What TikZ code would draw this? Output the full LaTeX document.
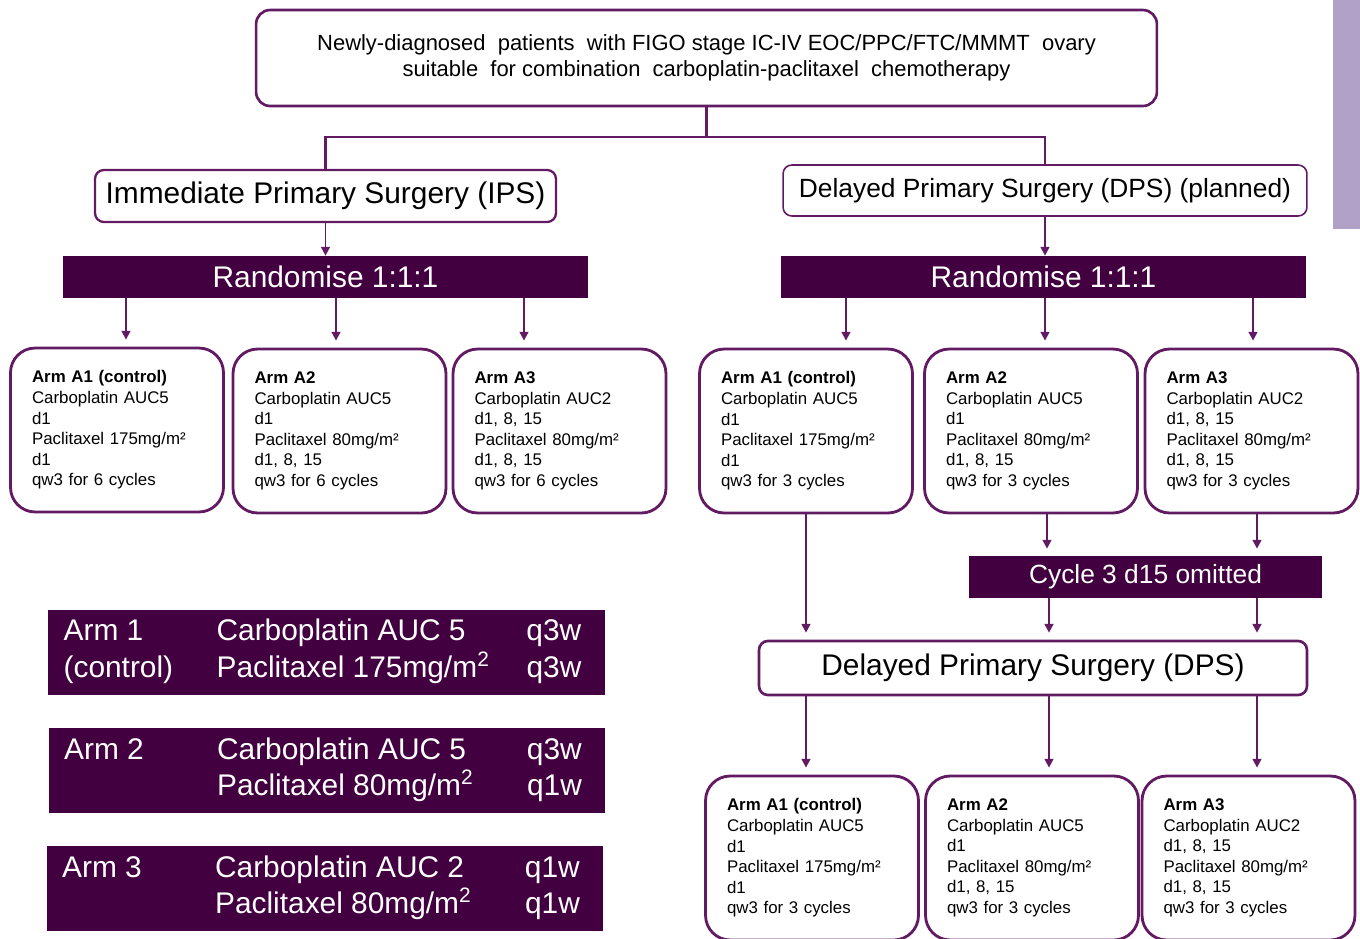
\documentclass[tikz,border=0pt]{standalone}
\usepackage{fontspec}
\setmainfont{Liberation Sans}
\usetikzlibrary{arrows.meta}
\definecolor{plum}{RGB}{66,0,64}
\definecolor{edgepurple}{RGB}{98,26,98}
\definecolor{lilac}{RGB}{177,160,200}

\begin{document}
\begin{tikzpicture}[x=0.02cm, y=-0.02cm,
  entry/.style={draw=edgepurple, line width=1.3pt, rounded corners=5pt, fill=white, align=center, inner sep=0pt},
  arm/.style={draw=edgepurple, line width=1.6pt, rounded corners=14pt, fill=white, minimum width=4.26cm, minimum height=3.28cm, text width=3.4cm, align=left, inner sep=0pt, font=\fontsize{9.6}{11.7}\selectfont},
  band/.style={fill=plum, text=white, inner sep=0pt},
  legend/.style={fill=plum, text=white, minimum width=11.14cm, minimum height=1.7cm, inner sep=0pt, font=\fontsize{17}{20.4}\selectfont},
  link/.style={draw=edgepurple, line width=1.6pt},
  arrow/.style={draw=edgepurple, line width=1.1pt, -{Triangle[length=5pt,width=5pt]}, shorten >=4pt}
]
\useasboundingbox (0,0) rectangle (1360,938);
\clip (0,0) rectangle (1360,938);
\fill[lilac] (1333,0) rectangle (1360,229);

\node[entry, line width=1.5pt, rounded corners=8pt, minimum width=18.02cm, minimum height=1.92cm, font=\fontsize{12.5}{14.7}\selectfont] (top) at (706.5,58) {Newly-diagnosed\ \ patients\ \ with FIGO stage IC-IV EOC/PPC/FTC/MMMT\ \ ovary\\suitable\ \ for combination\ \ carboplatin-paclitaxel\ \ chemotherapy};
\node[entry, minimum width=9.22cm, minimum height=1.04cm, font=\fontsize{17}{20}\selectfont] (ips) at (325.5,196) {Immediate Primary Surgery (IPS)};
\node[entry, line width=0.9pt, minimum width=10.48cm, minimum height=1.02cm, font=\fontsize{15}{18}\selectfont] (dpsplan) at (1045,190.5) {Delayed Primary Surgery (DPS) (planned)};

\node[band, minimum width=10.5cm, minimum height=0.84cm, font=\fontsize{17}{20}\selectfont] (rand1) at (325.5,277) {Randomise 1:1:1};
\node[band, minimum width=10.5cm, minimum height=0.84cm, font=\fontsize{17}{20}\selectfont] (rand2) at (1043.5,277) {Randomise 1:1:1};

\node[arm] (a1) at (117,430) {\textbf{Arm A1 (control)}\\Carboplatin AUC5\\d1\\Paclitaxel 175mg/m²\\d1\\qw3 for 6 cycles};
\node[arm] (a2) at (339.5,431) {\textbf{Arm A2}\\Carboplatin AUC5\\d1\\Paclitaxel 80mg/m²\\d1, 8, 15\\qw3 for 6 cycles};
\node[arm] (a3) at (559.5,431) {\textbf{Arm A3}\\Carboplatin AUC2\\d1, 8, 15\\Paclitaxel 80mg/m²\\d1, 8, 15\\qw3 for 6 cycles};
\node[arm] (b1) at (806,431) {\textbf{Arm A1 (control)}\\Carboplatin AUC5\\d1\\Paclitaxel 175mg/m²\\d1\\qw3 for 3 cycles};
\node[arm] (b2) at (1031,431) {\textbf{Arm A2}\\Carboplatin AUC5\\d1\\Paclitaxel 80mg/m²\\d1, 8, 15\\qw3 for 3 cycles};
\node[arm] (b3) at (1251.5,431) {\textbf{Arm A3}\\Carboplatin AUC2\\d1, 8, 15\\Paclitaxel 80mg/m²\\d1, 8, 15\\qw3 for 3 cycles};

\node[band, minimum width=7.06cm, minimum height=0.84cm, font=\fontsize{15}{18}\selectfont] (cycle) at (1145.5,577) {Cycle 3 d15 omitted};
\node[entry, line width=1.5pt, minimum width=10.96cm, minimum height=1.08cm, font=\fontsize{17}{20}\selectfont] (dps) at (1033,668) {Delayed Primary Surgery (DPS)};

\node[arm] (c1) at (812,858) {\textbf{Arm A1 (control)}\\Carboplatin AUC5\\d1\\Paclitaxel 175mg/m²\\d1\\qw3 for 3 cycles};
\node[arm] (c2) at (1032,858) {\textbf{Arm A2}\\Carboplatin AUC5\\d1\\Paclitaxel 80mg/m²\\d1, 8, 15\\qw3 for 3 cycles};
\node[arm] (c3) at (1248.5,858) {\textbf{Arm A3}\\Carboplatin AUC2\\d1, 8, 15\\Paclitaxel 80mg/m²\\d1, 8, 15\\qw3 for 3 cycles};

\node[legend] (leg1) at (326.5,652) {\begin{tabular}{@{}p{3.06cm}@{}p{6.2cm}@{}r@{\hspace{0.16cm}}}Arm 1 & Carboplatin AUC 5 & q3w\\(control) & Paclitaxel 175mg/m\textsuperscript{2} & q3w\end{tabular}};
\node[legend] (leg2) at (327,770.5) {\begin{tabular}{@{}p{3.06cm}@{}p{6.2cm}@{}r@{\hspace{0.16cm}}}Arm 2 & Carboplatin AUC 5 & q3w\\ & Paclitaxel 80mg/m\textsuperscript{2} & q1w\end{tabular}};
\node[legend] (leg3) at (325,888.5) {\begin{tabular}{@{}p{3.06cm}@{}p{6.2cm}@{}r@{\hspace{0.16cm}}}Arm 3 & Carboplatin AUC 2 & q1w\\ & Paclitaxel 80mg/m\textsuperscript{2} & q1w\end{tabular}};

\coordinate (split) at (top.south |- 0,137);
\draw[link] (top.south) -- (split);
\draw[link, line width=1.2pt] (split) -| (ips.north);
\draw[link, line width=1.2pt] (split) -| (dpsplan.north);

\draw[arrow, shorten >=0pt] (ips) -- (rand1);
\draw[arrow, shorten >=0pt] (dpsplan.south) -- (rand2.north -| dpsplan.south);

\draw[arrow] (rand1.south -| 126,0) -- (a1.north -| 126,0);
\draw[arrow] (rand1.south -| 336,0) -- (a2.north -| 336,0);
\draw[arrow] (rand1.south -| 524,0) -- (a3.north -| 524,0);
\draw[arrow] (rand2.south -| 846,0) -- (b1.north -| 846,0);
\draw[arrow] (rand2.south -| 1045,0) -- (b2.north -| 1045,0);
\draw[arrow] (rand2.south -| 1253,0) -- (b3.north -| 1253,0);

\draw[arrow] (b1.south -| 806,0) -- (dps.north -| 806,0);
\draw[arrow] (b2.south -| 1047,0) -- (cycle.north -| 1047,0);
\draw[arrow] (b3.south -| 1257,0) -- (cycle.north -| 1257,0);
\draw[arrow] (cycle.south -| 1049,0) -- (dps.north -| 1049,0);
\draw[arrow] (cycle.south -| 1257,0) -- (dps.north -| 1257,0);

\draw[arrow] (dps.south -| 806,0) -- (c1.north -| 806,0);
\draw[arrow] (dps.south -| 1049,0) -- (c2.north -| 1049,0);
\draw[arrow] (dps.south -| 1257,0) -- (c3.north -| 1257,0);
\end{tikzpicture}
\end{document}
